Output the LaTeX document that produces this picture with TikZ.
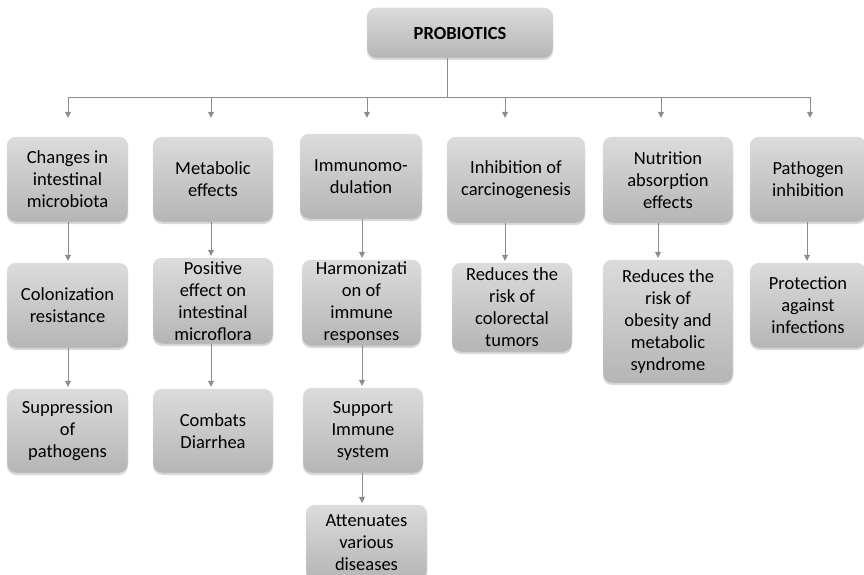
\documentclass[tikz,border=0pt]{standalone}
\usepackage{fontspec}
\setmainfont{Carlito}
\usetikzlibrary{arrows.meta,shadows}

\tikzset{
  probox/.style={draw=gray!25, rounded corners=9pt, top color=gray!28, bottom color=gray!58,
    align=center, inner sep=1pt, minimum width=121pt, minimum height=85pt,
    font=\fontsize{18.5}{22}\selectfont,
    drop shadow={shadow xshift=0pt, shadow yshift=-2pt, opacity=0.3}},
  link/.style={draw=gray!90, line width=0.8pt},
  arr/.style={link, -{Triangle[length=6pt,width=6pt]}}
}

\begin{document}
\begin{tikzpicture}[x=1pt, y=-1pt]
\clip (0,0) rectangle (864,575);

% root
\node[probox, font=\bfseries\fontsize{18.5}{22}\selectfont,
      minimum width=186pt, minimum height=50pt] (top) at (460,33) {PROBIOTICS};

% first row
\node[probox] (c1) at (67.5,179.5) {Changes in\\intestinal\\microbiota};
\node[probox, minimum width=120pt] (c2) at (213,179.5) {Metabolic\\effects};
\node[probox, minimum width=122pt] (c3) at (361,176.5) {Immunomo-\\dulation};
\node[probox, minimum width=138pt, minimum height=86pt] (c4) at (516,180) {Inhibition of\\carcinogenesis};
\node[probox, minimum width=130pt, minimum height=86pt] (c5) at (668,180) {Nutrition\\absorption\\effects};
\node[probox, minimum width=116pt] (c6) at (808,179.5) {Pathogen\\inhibition};

% second row
\node[probox] (c1b) at (67.5,305.5) {Colonization\\resistance};
\node[probox, minimum width=120pt, minimum height=86pt] (c2b) at (213,301) {Positive\\effect on\\intestinal\\microflora};
\node[probox, minimum width=119pt, minimum height=86pt] (c3b) at (361.5,303) {Harmonizati\\on of\\immune\\responses};
\node[probox, minimum width=120pt, minimum height=89pt] (c4b) at (512,307.5) {Reduces the\\risk of\\colorectal\\tumors};
\node[probox, minimum width=130pt, minimum height=123pt] (c5b) at (668,321.5) {Reduces the\\risk of\\obesity and\\metabolic\\syndrome};
\node[probox, minimum width=116pt] (c6b) at (808,305.5) {Protection\\against\\infections};

% third row
\node[probox, minimum height=84pt] (c1c) at (67.5,431) {Suppression\\of\\pathogens};
\node[probox, minimum width=120pt, minimum height=84pt] (c2c) at (213,431) {Combats\\Diarrhea};
\node[probox, minimum width=120pt] (c3c) at (363,430.5) {Support\\Immune\\system};
\node[probox, minimum height=75pt] (c3d) at (366.5,542.5) {Attenuates\\various\\diseases};

% bus
\coordinate (trunk) at (447,97);
\coordinate (b1) at (68,97);
\coordinate (b2) at (211,97);
\coordinate (b3) at (367,97);
\coordinate (b4) at (505,97);
\coordinate (b5) at (661,97);
\coordinate (b6) at (810,97);
\coordinate (k3) at (362,0);
\coordinate (k5) at (658,0);
\coordinate (k6) at (807,0);

\draw[link] (top.south -| trunk) -- (trunk);
\draw[link] (b1) -- (b6);
\draw[arr, shorten >=19pt] (b1) -- (b1 |- c1.north);
\draw[arr, shorten >=19pt] (b2) -- (b2 |- c2.north);
\draw[arr, shorten >=16pt] (b3) -- (b3 |- c3.north);
\draw[arr, shorten >=19pt] (b4) -- (b4 |- c4.north);
\draw[arr, shorten >=19pt] (b5) -- (b5 |- c5.north);
\draw[arr, shorten >=19pt] (b6) -- (b6 |- c6.north);

% columns
\draw[arr, shorten >=2pt] (c1.south -| b1) -- (c1b.north -| b1);
\draw[arr, shorten >=2pt] (c1b.south -| b1) -- (c1c.north -| b1);
\draw[arr, shorten >=2pt] (c2.south -| b2) -- (c2b.north -| b2);
\draw[arr, shorten >=2pt] (c2b.south -| b2) -- (c2c.north -| b2);
\draw[arr, shorten >=2pt] (c3.south -| k3) -- (c3b.north -| k3);
\draw[arr, shorten >=2pt] (c3b.south -| k3) -- (c3c.north -| k3);
\draw[arr, shorten >=2pt] (c3c.south -| k3) -- (c3d.north -| k3);
\draw[arr, shorten >=2pt] (c4.south -| b4) -- (c4b.north -| b4);
\draw[arr, shorten >=2pt] (c5.south -| k5) -- (c5b.north -| k5);
\draw[arr, shorten >=2pt] (c6.south -| k6) -- (c6b.north -| k6);
\end{tikzpicture}
\end{document}
